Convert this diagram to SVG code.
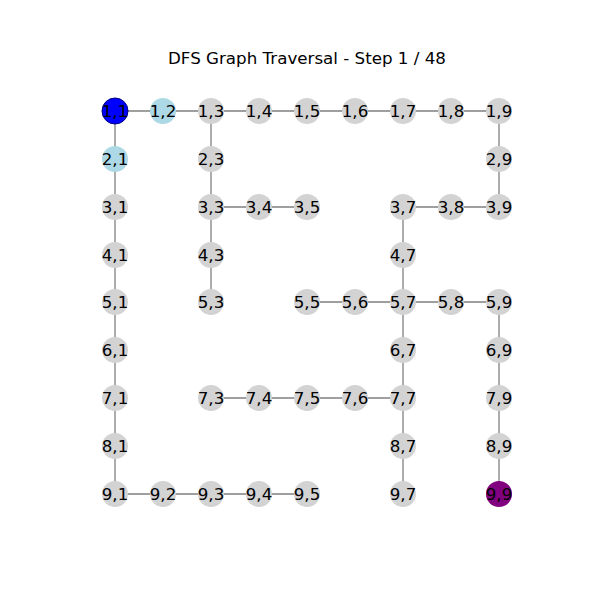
<svg xmlns="http://www.w3.org/2000/svg" width="600" height="600" viewBox="0 0 600 600">
<style>
.e{stroke:#808080;stroke-width:1.3;fill:none}
.n{fill:#d3d3d3}
.v{fill:#add8e6}
.t{font-family:"DejaVu Sans",sans-serif;font-size:16.7px;fill:#000;text-anchor:middle;dominant-baseline:central}
</style>
<rect width="600" height="600" fill="#fff"/>
<text x="307" y="58" class="t">DFS Graph Traversal - Step 1 / 48</text>
<g id="edges">
<path class="e" d="M115,111H499 M115,111V494 M211,111V302 M211,207H307 M499,111V207 M403,207H499 M403,207V398 M307,302H499 M499,302V494 M211,398H403 M403,398V494 M115,494H307"/>
</g>
<g id="n1_1"><circle cx="115" cy="111" r="13" fill="#0000ff" stroke="#000080" stroke-width="1"/><text x="115" y="111" class="t">1,1</text></g>
<g id="n1_2"><circle cx="163" cy="111" r="13" class="v"/><text x="163" y="111" class="t">1,2</text></g>
<g id="n1_3"><circle cx="211" cy="111" r="13" class="n"/><text x="211" y="111" class="t">1,3</text></g>
<g id="n1_4"><circle cx="259" cy="111" r="13" class="n"/><text x="259" y="111" class="t">1,4</text></g>
<g id="n1_5"><circle cx="307" cy="111" r="13" class="n"/><text x="307" y="111" class="t">1,5</text></g>
<g id="n1_6"><circle cx="355" cy="111" r="13" class="n"/><text x="355" y="111" class="t">1,6</text></g>
<g id="n1_7"><circle cx="403" cy="111" r="13" class="n"/><text x="403" y="111" class="t">1,7</text></g>
<g id="n1_8"><circle cx="451" cy="111" r="13" class="n"/><text x="451" y="111" class="t">1,8</text></g>
<g id="n1_9"><circle cx="499" cy="111" r="13" class="n"/><text x="499" y="111" class="t">1,9</text></g>
<g id="n2_1"><circle cx="115" cy="159" r="13" class="v"/><text x="115" y="159" class="t">2,1</text></g>
<g id="n2_3"><circle cx="211" cy="159" r="13" class="n"/><text x="211" y="159" class="t">2,3</text></g>
<g id="n2_9"><circle cx="499" cy="159" r="13" class="n"/><text x="499" y="159" class="t">2,9</text></g>
<g id="n3_1"><circle cx="115" cy="207" r="13" class="n"/><text x="115" y="207" class="t">3,1</text></g>
<g id="n3_3"><circle cx="211" cy="207" r="13" class="n"/><text x="211" y="207" class="t">3,3</text></g>
<g id="n3_4"><circle cx="259" cy="207" r="13" class="n"/><text x="259" y="207" class="t">3,4</text></g>
<g id="n3_5"><circle cx="307" cy="207" r="13" class="n"/><text x="307" y="207" class="t">3,5</text></g>
<g id="n3_7"><circle cx="403" cy="207" r="13" class="n"/><text x="403" y="207" class="t">3,7</text></g>
<g id="n3_8"><circle cx="451" cy="207" r="13" class="n"/><text x="451" y="207" class="t">3,8</text></g>
<g id="n3_9"><circle cx="499" cy="207" r="13" class="n"/><text x="499" y="207" class="t">3,9</text></g>
<g id="n4_1"><circle cx="115" cy="255" r="13" class="n"/><text x="115" y="255" class="t">4,1</text></g>
<g id="n4_3"><circle cx="211" cy="255" r="13" class="n"/><text x="211" y="255" class="t">4,3</text></g>
<g id="n4_7"><circle cx="403" cy="255" r="13" class="n"/><text x="403" y="255" class="t">4,7</text></g>
<g id="n5_1"><circle cx="115" cy="302" r="13" class="n"/><text x="115" y="302" class="t">5,1</text></g>
<g id="n5_3"><circle cx="211" cy="302" r="13" class="n"/><text x="211" y="302" class="t">5,3</text></g>
<g id="n5_5"><circle cx="307" cy="302" r="13" class="n"/><text x="307" y="302" class="t">5,5</text></g>
<g id="n5_6"><circle cx="355" cy="302" r="13" class="n"/><text x="355" y="302" class="t">5,6</text></g>
<g id="n5_7"><circle cx="403" cy="302" r="13" class="n"/><text x="403" y="302" class="t">5,7</text></g>
<g id="n5_8"><circle cx="451" cy="302" r="13" class="n"/><text x="451" y="302" class="t">5,8</text></g>
<g id="n5_9"><circle cx="499" cy="302" r="13" class="n"/><text x="499" y="302" class="t">5,9</text></g>
<g id="n6_1"><circle cx="115" cy="350" r="13" class="n"/><text x="115" y="350" class="t">6,1</text></g>
<g id="n6_7"><circle cx="403" cy="350" r="13" class="n"/><text x="403" y="350" class="t">6,7</text></g>
<g id="n6_9"><circle cx="499" cy="350" r="13" class="n"/><text x="499" y="350" class="t">6,9</text></g>
<g id="n7_1"><circle cx="115" cy="398" r="13" class="n"/><text x="115" y="398" class="t">7,1</text></g>
<g id="n7_3"><circle cx="211" cy="398" r="13" class="n"/><text x="211" y="398" class="t">7,3</text></g>
<g id="n7_4"><circle cx="259" cy="398" r="13" class="n"/><text x="259" y="398" class="t">7,4</text></g>
<g id="n7_5"><circle cx="307" cy="398" r="13" class="n"/><text x="307" y="398" class="t">7,5</text></g>
<g id="n7_6"><circle cx="355" cy="398" r="13" class="n"/><text x="355" y="398" class="t">7,6</text></g>
<g id="n7_7"><circle cx="403" cy="398" r="13" class="n"/><text x="403" y="398" class="t">7,7</text></g>
<g id="n7_9"><circle cx="499" cy="398" r="13" class="n"/><text x="499" y="398" class="t">7,9</text></g>
<g id="n8_1"><circle cx="115" cy="446" r="13" class="n"/><text x="115" y="446" class="t">8,1</text></g>
<g id="n8_7"><circle cx="403" cy="446" r="13" class="n"/><text x="403" y="446" class="t">8,7</text></g>
<g id="n8_9"><circle cx="499" cy="446" r="13" class="n"/><text x="499" y="446" class="t">8,9</text></g>
<g id="n9_1"><circle cx="115" cy="494" r="13" class="n"/><text x="115" y="494" class="t">9,1</text></g>
<g id="n9_2"><circle cx="163" cy="494" r="13" class="n"/><text x="163" y="494" class="t">9,2</text></g>
<g id="n9_3"><circle cx="211" cy="494" r="13" class="n"/><text x="211" y="494" class="t">9,3</text></g>
<g id="n9_4"><circle cx="259" cy="494" r="13" class="n"/><text x="259" y="494" class="t">9,4</text></g>
<g id="n9_5"><circle cx="307" cy="494" r="13" class="n"/><text x="307" y="494" class="t">9,5</text></g>
<g id="n9_7"><circle cx="403" cy="494" r="13" class="n"/><text x="403" y="494" class="t">9,7</text></g>
<g id="n9_9"><circle cx="499" cy="494" r="13" fill="#800080"/><text x="499" y="494" class="t">9,9</text></g>
</svg>
